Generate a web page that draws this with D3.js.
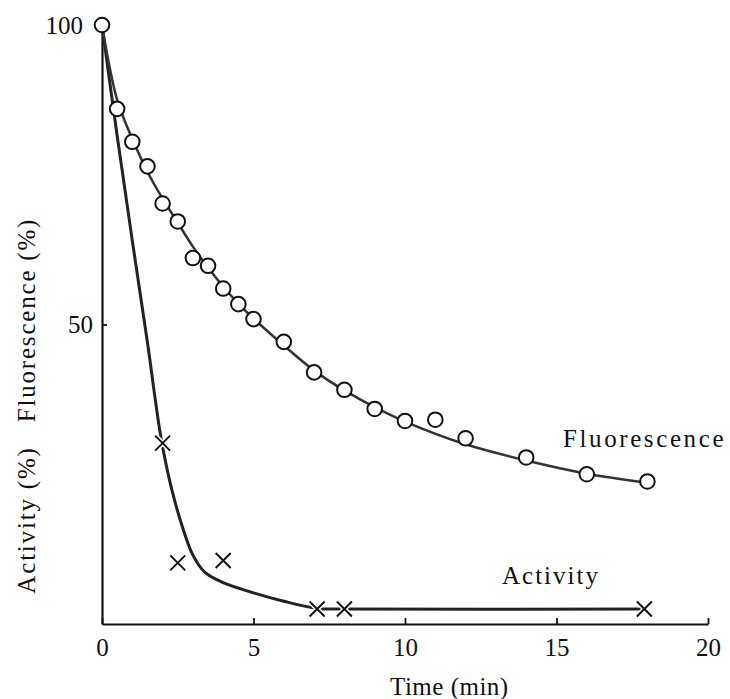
<!DOCTYPE html>
<html lang="en">
<head>
<meta charset="utf-8">
<title>Fluorescence and activity</title>
<script src="https://d3js.org/d3.v7.min.js"></script>
<style>
  body { margin: 0; background: #fff; }
  svg { display: block; }
  text { font-family: "Liberation Serif", "DejaVu Serif", serif; fill: #111; }
</style>
</head>
<body>
<script>
// Fluorescence (%) measured points (circles)
var fluorTime  = [0, 0.5, 1, 1.5, 2, 2.5, 3, 3.5, 4, 4.5, 5, 6, 7, 8, 9, 10, 11, 12, 14, 16, 18];
var fluorValue = [100, 86, 80.5, 76.4, 70.2, 67.2, 61.1, 59.8, 56, 53.4, 50.9, 47.1, 42, 39.1, 35.9, 33.9, 34.1, 31, 27.8, 25, 23.8];

// Activity (%) measured points (crosses)
var actTime  = [2, 2.5, 4, 7.1, 8, 17.9];
var actValue = [30.2, 10.2, 10.6, 2.5, 2.5, 2.5];

// hand-drawn curves
var fluorCurveTime  = [0, 0.5, 1, 1.5, 2, 2.5, 3, 3.5, 4, 4.5, 5, 6, 7, 8, 9, 10, 12, 14, 16, 18];
var fluorCurveValue = [100, 87.5, 81, 75.5, 71, 67, 63, 59.5, 56.3, 53.5, 51, 46.5, 42.3, 39, 36.2, 33.8, 30, 27.3, 25.1, 23.6];
var actCurveTime  = [0, 0.5, 1.0, 1.5, 1.95, 2.3, 2.7, 3.0, 3.4, 4, 5, 6, 7.1, 8, 17.9];
var actCurveValue = [100, 81.5, 64, 47, 31, 22.5, 15.5, 11.5, 8.6, 6.9, 5.2, 3.8, 2.6, 2.5, 2.5];

var xTicks = [0, 5, 10, 15, 20];
var yTicks = [50, 100];

var w = 730, h = 699;
var fs = "25px";

var x = d3.scaleLinear().domain([0, 20]).range([102, 708]);
var y = d3.scaleLinear().domain([0, 100]).range([624, 25]);

var svg = d3.select("body").append("svg")
    .attr("width", w)
    .attr("height", h);

// axes
var xAxis = d3.axisBottom(x)
    .tickValues(xTicks)
    .tickSizeInner(-6)
    .tickSizeOuter(0)
    .tickPadding(14);

var gx = svg.append("g")
    .attr("transform", "translate(0," + y(0) + ")")
    .call(xAxis);

var yAxis = d3.axisLeft(y)
    .tickValues(yTicks)
    .tickSizeInner(-5)
    .tickSizeOuter(0)
    .tickPadding(9);

var gy = svg.append("g")
    .attr("transform", "translate(" + x(0) + ",0)")
    .call(yAxis);

svg.selectAll(".domain").attr("stroke", "#111").attr("stroke-width", 2.2);
svg.selectAll(".tick line").attr("stroke", "#111").attr("stroke-width", 1.8);
svg.selectAll(".tick text")
    .attr("font-size", fs)
    .attr("font-family", "Liberation Serif, serif")
    .attr("fill", "#111");
// the 100 label sits left of the first circle
gy.selectAll(".tick").filter(function(d) { return d === 100; })
    .select("text").attr("x", -19);
gy.selectAll(".tick").filter(function(d) { return d === 100; })
    .select("line").remove();

// curves
var line = d3.line()
    .x(function(d) { return x(d[0]); })
    .y(function(d) { return y(d[1]); })
    .curve(d3.curveCatmullRom.alpha(0.5));

svg.append("path")
    .datum(d3.zip(actCurveTime, actCurveValue))
    .attr("d", line)
    .attr("fill", "none")
    .attr("stroke", "#222")
    .attr("stroke-width", 3);

svg.append("path")
    .datum(d3.zip(fluorCurveTime, fluorCurveValue))
    .attr("d", line)
    .attr("fill", "none")
    .attr("stroke", "#333")
    .attr("stroke-width", 2.5);

// crosses
var cross = svg.selectAll(".cross")
    .data(d3.zip(actTime, actValue))
    .enter()
    .append("g")
    .attr("class", "cross")
    .attr("transform", function(d) { return "translate(" + x(d[0]) + "," + y(d[1]) + ")"; });

var s = 7.5;
[["white", 5], ["#111", 1.9]].forEach(function(st) {
    cross.append("path")
        .attr("d", "M" + (-s) + "," + (-s) + "L" + s + "," + s + "M" + (-s) + "," + s + "L" + s + "," + (-s))
        .attr("stroke", st[0])
        .attr("stroke-width", st[1])
        .attr("fill", "none");
});

// circles
svg.selectAll(".pt")
    .data(d3.zip(fluorTime, fluorValue))
    .enter()
    .append("circle")
    .attr("class", "pt")
    .attr("cx", function(d) { return x(d[0]); })
    .attr("cy", function(d) { return y(d[1]); })
    .attr("r", 7.3)
    .attr("fill", "white")
    .attr("stroke", "#111")
    .attr("stroke-width", 2);

// series labels
svg.append("text")
    .attr("x", 563)
    .attr("y", 447)
    .attr("font-size", fs)
    .attr("letter-spacing", "2.6px")
    .text("Fluorescence");

svg.append("text")
    .attr("x", 502)
    .attr("y", 584)
    .attr("font-size", fs)
    .attr("letter-spacing", "2px")
    .text("Activity");

// axis titles
svg.append("text")
    .attr("x", 390)
    .attr("y", 695)
    .attr("font-size", fs)
    .attr("letter-spacing", "0.5px")
    .text("Time (min)");

svg.append("text")
    .attr("transform", "translate(35,520) rotate(-90)")
    .attr("text-anchor", "middle")
    .attr("font-size", fs)
    .attr("letter-spacing", "1.8px")
    .text("Activity (%)");

svg.append("text")
    .attr("transform", "translate(35,320) rotate(-90)")
    .attr("text-anchor", "middle")
    .attr("font-size", fs)
    .attr("letter-spacing", "1.8px")
    .text("Fluorescence (%)");
</script>
</body>
</html>
